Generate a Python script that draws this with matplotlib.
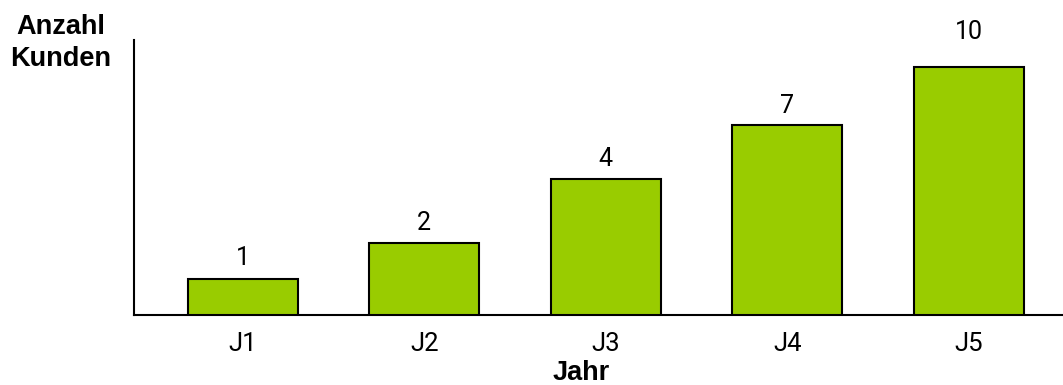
import matplotlib.pyplot as plt
import numpy as np

# data
years = ["J1", "J2", "J3", "J4", "J5"]
customers = [1, 2, 4, 7, 10]
# bar heights as drawn in the picture (not proportional to the labels)
bar_heights = [1.0, 2.0, 3.78, 5.28, 6.89]

fig = plt.figure(figsize=(10.63, 3.85), dpi=100)
ax = fig.add_axes([134 / 1063, 70 / 385, 1 - 134 / 1063, 275 / 385])

x = np.arange(len(years))
ax.bar(x, bar_heights, width=0.606, color="#99cc00", edgecolor="black",
       linewidth=1.5, zorder=3)

# value labels above the bars
label_gap = [0.58, 0.55, 0.55, 0.52, 0.97]
for xi, h, v, g in zip(x, bar_heights, customers, label_gap):
    ax.text(xi, h + g, str(v), ha="center", va="center",
            fontsize=18, family="Roboto", color="black")

ax.set_xlim(-0.6, 4.52)
ax.set_ylim(0, 7.64)
ax.set_xticks(x)
ax.set_xticklabels(years, fontsize=18.5, family="Roboto")
ax.tick_params(axis="x", length=0, pad=12)
ax.set_yticks([])

for s in ["top", "right"]:
    ax.spines[s].set_visible(False)
for s in ["left", "bottom"]:
    ax.spines[s].set_linewidth(1.5)
    ax.spines[s].set_color("black")

fig.text(581 / 1063, 12 / 385, "Jahr", ha="center", va="center",
         fontsize=19.5, fontweight="bold", family="Liberation Sans")
fig.text(61 / 1063, 1 - 43 / 385, "Anzahl\nKunden", ha="center", va="center",
         fontsize=19.5, fontweight="bold", family="Liberation Sans",
         linespacing=1.35)

fig.savefig("out.png", dpi=100)
